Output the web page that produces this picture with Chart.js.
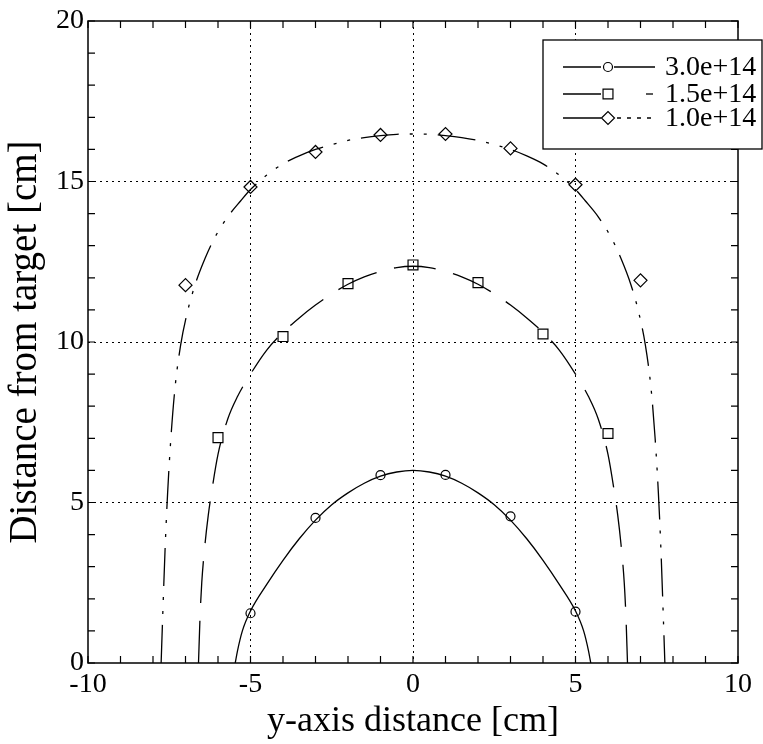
<!DOCTYPE html>
<html>
<head>
<meta charset="utf-8">
<script src="https://cdn.jsdelivr.net/npm/chart.js@4.4.1/dist/chart.umd.min.js"></script>
<style>
  html, body { margin: 0; padding: 0; background: #fff; }
  #wrap { width: 763px; height: 744px; }
</style>
</head>
<body>
<div id="wrap"><canvas id="chart" width="763" height="744"></canvas></div>
<script>
// ── Data ────────────────────────────────────────────────────────────────────
const legendLabels = ['3.0e+14', '1.5e+14', '1.0e+14'];

// measured points (markers)
const circX = [-5, -3, -1, 1, 3, 5];
const circY = [1.55, 4.52, 5.85, 5.86, 4.57, 1.6];
const sqX   = [-6, -4, -2, 0, 2, 4, 6];
const sqY   = [7.02, 10.17, 11.82, 12.4, 11.85, 10.25, 7.15];
const diaX  = [-7, -5, -3, -1, 1, 3, 5, 7];
const diaY  = [11.77, 14.83, 15.92, 16.45, 16.48, 16.03, 14.9, 11.92];

// fitted curves
const solidX = [-5.47, -5.4, -5.25, -5.0, -4.5, -4.0, -3.5, -3.0, -2.5, -2.0, -1.5, -1.0, -0.5, 0,
                0.5, 1.0, 1.5, 2.0, 2.5, 3.0, 3.5, 4.0, 4.5, 5.0, 5.25, 5.4, 5.47];
const solidY = [0, 0.38, 1.0, 1.62, 2.45, 3.2, 3.87, 4.45, 4.93, 5.3, 5.6, 5.82, 5.95, 6.0,
                5.95, 5.82, 5.6, 5.3, 4.93, 4.45, 3.87, 3.2, 2.45, 1.62, 1.0, 0.38, 0];

const dashX = [-6.6, -6.55, -6.5, -6.4, -6.3, -6.2, -6.0, -5.7, -5.4, -5.0, -4.5,
               -4.0, -3.5, -3.0, -2.5, -2.0, -1.5, -1.0, -0.5, 0,
               0.5, 1.0, 1.5, 2.0, 2.5, 3.0, 3.5, 4.0,
               4.5, 5.0, 5.4, 5.7, 6.0, 6.2, 6.3, 6.4, 6.5, 6.55, 6.6];
const dashY = [0, 1.5, 2.5, 3.7, 4.6, 5.3, 6.5, 7.6, 8.3, 9.0, 9.75,
               10.3, 10.75, 11.15, 11.5, 11.8, 12.03, 12.2, 12.32, 12.36,
               12.32, 12.2, 12.03, 11.8, 11.5, 11.15, 10.75, 10.3,
               9.75, 9.0, 8.3, 7.6, 6.5, 5.3, 4.6, 3.7, 2.5, 1.5, 0];

const dotX = [-7.75, -7.7, -7.63, -7.55, -7.45, -7.32, -7.15, -6.95, -6.7, -6.4, -6.1, -5.7,
              -5.3, -5.0, -4.5, -4.0, -3.5, -3.0, -2.5, -2.0, -1.5, -1.0, -0.5, 0,
              0.5, 1.0, 1.5, 2.0, 2.5, 3.0, 3.5, 4.0, 4.5, 5.0, 5.3,
              5.7, 6.1, 6.4, 6.7, 6.95, 7.15, 7.32, 7.45, 7.55, 7.63, 7.7, 7.75];
const dotY = [0, 1.5, 3.5, 5.3, 7.0, 8.6, 9.9, 10.9, 11.8, 12.6, 13.25, 13.9,
              14.4, 14.75, 15.2, 15.55, 15.8, 16.0, 16.15, 16.28, 16.37, 16.43, 16.47, 16.48,
              16.47, 16.43, 16.37, 16.28, 16.15, 16.0, 15.8, 15.55, 15.2, 14.75, 14.4,
              13.9, 13.25, 12.6, 11.8, 10.9, 9.9, 8.6, 7.0, 5.3, 3.5, 1.5, 0];

const xTickLabels = [-10, -5, 0, 5, 10];
const yTickLabels = [0, 5, 10, 15, 20];

// ── Helpers ─────────────────────────────────────────────────────────────────
const SERIF = '"Liberation Serif", "Times New Roman", serif';
const pts = (xs, ys) => xs.map((x, i) => ({ x, y: ys[i] }));

function curve(xs, ys, dash) {
  return {
    data: pts(xs, ys), showLine: true, pointRadius: 0, borderColor: '#000',
    borderWidth: 1.3, borderDash: dash, cubicInterpolationMode: 'monotone', fill: false
  };
}
function marks(xs, ys, style, r) {
  return {
    data: pts(xs, ys), showLine: false, pointStyle: style, pointRadius: r,
    pointBorderColor: '#000', pointBackgroundColor: 'rgba(0,0,0,0)', pointBorderWidth: 1.2
  };
}

// ── Frame: box + inward ticks on all sides ──────────────────────────────────
const frame = {
  id: 'frame',
  afterDatasetsDraw(chart) {
    const { ctx, chartArea: a, scales: { x, y } } = chart;
    ctx.save();
    ctx.strokeStyle = '#000';
    ctx.lineWidth = 1.5;
    ctx.setLineDash([]);
    ctx.strokeRect(a.left, a.top, a.right - a.left, a.bottom - a.top);
    ctx.lineWidth = 1.2;
    const L = 7;
    ctx.beginPath();
    x.ticks.forEach(t => {
      const px = x.getPixelForValue(t.value);
      ctx.moveTo(px, a.bottom); ctx.lineTo(px, a.bottom - L);
      ctx.moveTo(px, a.top);    ctx.lineTo(px, a.top + L);
    });
    y.ticks.forEach(t => {
      const py = y.getPixelForValue(t.value);
      ctx.moveTo(a.left, py);  ctx.lineTo(a.left + L, py);
      ctx.moveTo(a.right, py); ctx.lineTo(a.right - L, py);
    });
    ctx.stroke();
    ctx.restore();
  }
};

// ── Legend box (line sample + marker + label) ───────────────────────────────
const legendBox = {
  id: 'legendBox',
  afterDraw(chart) {
    const { ctx } = chart;
    const bx = 543, by = 40, bw = 219, bh = 109;
    ctx.save();
    ctx.fillStyle = '#fff';
    ctx.fillRect(bx, by, bw, bh);
    ctx.strokeStyle = '#000';
    ctx.lineWidth = 1.3;
    ctx.strokeRect(bx, by, bw, bh);

    const rows = [67, 94, 118];
    const styles = [['circle', 4.5], ['rect', 7], ['rectRot', 6.5]];
    ctx.font = '28px ' + SERIF;
    ctx.textBaseline = 'middle';
    ctx.textAlign = 'left';
    rows.forEach((ry, i) => {
      ctx.strokeStyle = '#000';
      ctx.lineWidth = 1.3;
      ctx.setLineDash([]);
      ctx.beginPath(); ctx.moveTo(563, ry); ctx.lineTo(601, ry); ctx.stroke();
      if (i === 0) {
        ctx.beginPath(); ctx.moveTo(614, ry); ctx.lineTo(655, ry); ctx.stroke();
      } else if (i === 1) {
        ctx.beginPath(); ctx.moveTo(646, ry); ctx.lineTo(653, ry); ctx.stroke();
      } else {
        ctx.setLineDash([4, 6]);
        ctx.beginPath(); ctx.moveTo(617, ry); ctx.lineTo(655, ry); ctx.stroke();
        ctx.setLineDash([]);
      }
      ctx.lineWidth = 1.2;
      ctx.fillStyle = '#fff';
      Chart.helpers.drawPoint(ctx, { pointStyle: styles[i][0], radius: styles[i][1], borderWidth: 1.2 }, 608, ry);
      ctx.fillStyle = '#000';
      ctx.fillText(legendLabels[i], 665, ry + 1);
    });
    ctx.restore();
  }
};

// ── Chart ───────────────────────────────────────────────────────────────────
const gridColor = ctx => {
  const v = ctx.tick && ctx.tick.value;
  return (v % 5 === 0 && ctx.index !== 0 && v !== ctx.scale.max) ? '#000' : 'rgba(0,0,0,0)';
};

new Chart(document.getElementById('chart'), {
  type: 'scatter',
  data: {
    datasets: [
      curve(solidX, solidY, []),
      curve(dashX, dashY, [42, 18]),
      curve(dotX, dotY, [38, 11, 3, 11, 3, 11]),
      marks(circX, circY, 'circle', 4.5),
      marks(sqX, sqY, 'rect', 7),
      marks(diaX, diaY, 'rectRot', 6.5)
    ]
  },
  options: {
    responsive: false, animation: false,
    layout: { padding: { top: 21, right: 25, left: 0, bottom: 0 } },
    plugins: { legend: { display: false }, tooltip: { enabled: false } },
    scales: {
      x: {
        type: 'linear', min: -10, max: 10,
        afterFit: s => { s.height = 81; },
        ticks: {
          stepSize: 1, autoSkip: false, maxRotation: 0, minRotation: 0,
          color: '#000', padding: 5,
          font: { family: SERIF, size: 28 },
          callback: v => xTickLabels.includes(v) ? String(v) : ''
        },
        grid: { color: gridColor, lineWidth: 1, drawTicks: false },
        border: { display: false, dash: [2, 4] },
        title: {
          display: true, text: 'y-axis distance [cm]', color: '#000',
          font: { family: SERIF, size: 36, lineHeight: 1 }, padding: { top: 0, bottom: 4 }
        }
      },
      y: {
        type: 'linear', min: 0, max: 20,
        afterFit: s => { s.width = 88; },
        ticks: {
          stepSize: 1, autoSkip: false, color: '#000', padding: 4,
          font: { family: SERIF, size: 28 },
          callback: v => yTickLabels.includes(v) ? String(v) : ''
        },
        grid: { color: gridColor, lineWidth: 1, drawTicks: false },
        border: { display: false, dash: [2, 4] },
        title: {
          display: true, text: 'Distance from target [cm]', color: '#000',
          font: { family: SERIF, size: 39, lineHeight: 1 }, padding: { top: 6, bottom: 0 }
        }
      }
    }
  },
  plugins: [frame, legendBox]
});
</script>
</body>
</html>
